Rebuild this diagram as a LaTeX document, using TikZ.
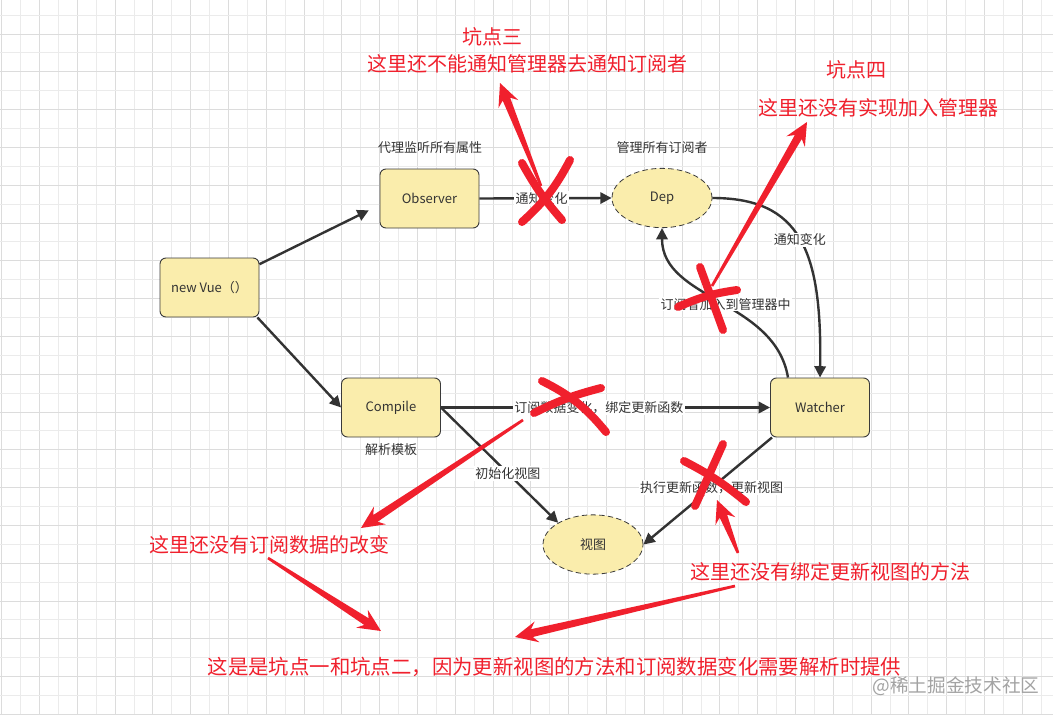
\documentclass[tikz,border=0pt]{standalone}
\usepackage{fontspec}
\setmainfont{Noto Sans CJK SC}
\usetikzlibrary{shapes.geometric,calc,arrows.meta}
\definecolor{nodefill}{HTML}{FAEDAC}
\definecolor{nodeline}{HTML}{3A3A3A}
\definecolor{edgec}{HTML}{333333}
\definecolor{txt}{HTML}{333333}
\definecolor{annred}{HTML}{F0202D}
\definecolor{gridd}{HTML}{DCDCDC}
\definecolor{gridl}{HTML}{EBEBEB}
\definecolor{wmark}{HTML}{A3A3A3}
\newcommand\nf{\fontsize{9.75pt}{11pt}\selectfont}
\newcommand\rf{\fontsize{15pt}{17pt}\selectfont}
\newcommand\bottomf{\fontsize{15.3pt}{18pt}\selectfont}
\newcommand\wmf{\fontsize{14pt}{16pt}\selectfont}
\newcommand\redarrow[2]{%
  \coordinate (hh) at ($(#2)!17pt!(#1)$);
  \coordinate (ss) at ($(#2)!13pt!(#1)$);
  \fill[annred] ($(#1)!1pt!90:(#2)$) -- ($(ss)!3pt!90:(#2)$) -- ($(hh)!8pt!90:(#2)$) -- (#2)
    -- ($(hh)!8pt!-90:(#2)$) -- ($(ss)!3pt!-90:(#2)$) -- ($(#1)!1pt!-90:(#2)$) -- cycle;
}
\tikzset{
  rbox/.style={draw=nodeline, fill=nodefill, rounded corners=4.5pt, minimum width=74.25pt,
    minimum height=44.25pt, line width=0.7pt, font=\nf, text=txt},
  ebox/.style={ellipse, draw=nodeline, dash pattern=on 4pt off 2.5pt, fill=nodefill,
    minimum width=75pt, minimum height=44.5pt, line width=0.6pt, font=\nf, text=txt, inner sep=0pt},
  conn/.style={draw=edgec, line width=1.8pt, -{Triangle[length=8.5pt,width=8.5pt]}},
  elbl/.style={fill=white, inner sep=1pt, font=\nf, text=txt},
  lbl/.style={font=\nf, text=txt, inner sep=0pt},
  redtxt/.style={font=\rf, text=annred, inner sep=0pt},
  redx/.style={draw=annred, line width=6pt, line cap=round},
}
\begin{document}
\begin{tikzpicture}[x=0.75pt,y=-0.75pt]
\useasboundingbox (0,0) rectangle (1053,714);
\fill[white] (0,0) rectangle (1053,714);
% grid
\foreach \i in {0,...,27} {
  \draw[gridl, line width=0.75pt] ({20.6+37.8*\i},0) -- ++(0,714);
  \draw[gridd, line width=0.75pt] ({1.7+37.8*\i},0) -- ++(0,714);
}
\foreach \i in {0,...,18} {
  \draw[gridl, line width=0.75pt] (0,{15.1+37.8*\i}) -- ++(1053,0);
  \draw[gridd, line width=0.75pt] (0,{34+37.8*\i}) -- ++(1053,0);
}
% nodes
\node[rbox] (vue) at (209.5,287.5) {new Vue（）};
\node[rbox] (obs) at (429.5,198.5) {Observer};
\node[ebox] (dep) at (662,198) {Dep};
\node[rbox] (cmp) at (391,407.5) {Compile};
\node[rbox] (wat) at (820,407.5) {Watcher};
\node[ebox] (view) at (593,544.5) {视图};
\node[lbl] (t1) at (430,148) {代理监听所有属性};
\node[lbl] (t2) at (662,148) {管理所有订阅者};
\node[lbl] (t3) at (391,450) {解析模板};
% connectors
\draw[conn, shorten >=9pt] (vue.25) -- ([yshift=-4.9pt]obs.west);
\draw[conn] (vue.-32) -- (cmp.west);
\draw[conn] (obs.east) -- node[elbl, pos=0.47] {通知变化} (dep.west);
\draw[conn] (dep.east) .. controls (800,198) and (822,250) .. node[elbl, pos=0.5] {通知变化} (wat.north);
\draw[conn] ([xshift=-24pt]wat.north) .. controls (775,300) and (662,300) .. node[elbl, pos=0.47] {订阅者加入到管理器中} (dep.south);
\draw[conn] (cmp.east) -- node[elbl, pos=0.48] {订阅数据变化，绑定更新函数} (wat.west);
\draw[conn] (cmp.east) -- node[elbl, pos=0.57] {初始化视图} (view.148);
\draw[conn] (wat.-148) -- node[elbl, pos=0.47] {执行更新函数，更新视图} (view.east);
% red crosses
\coordinate (x1a) at (522,163); \coordinate (x1b) at (562,220);
\coordinate (x1c) at (570,160); \coordinate (x1d) at (522,222);
\draw[redx] (x1a) to[bend right=6] (x1b);
\draw[redx] (x1c) to[bend left=10] (x1d);
\coordinate (x2a) at (700,267); \coordinate (x2b) at (723,330);
\coordinate (x2c) at (678,307); \coordinate (x2d) at (737,290);
\draw[redx] (x2a) -- (x2b);
\draw[redx] (x2c) to[bend left=8] (x2d);
\coordinate (x3a) at (542,381); \coordinate (x3b) at (606,432);
\coordinate (x3c) at (601,388); \coordinate (x3d) at (534,413);
\draw[redx] (x3a) to[bend left=12] (x3b);
\draw[redx] (x3c) to[bend right=6] (x3d);
\coordinate (x4a) at (723,444); \coordinate (x4b) at (695,506);
\coordinate (x4c) at (684,461); \coordinate (x4d) at (746,502);
\draw[redx] (x4a) -- (x4b);
\draw[redx] (x4c) to[bend left=6] (x4d);
% red arrows
\coordinate (a1t) at (541,186); \coordinate (a1h) at (500,83);
\redarrow{a1t}{a1h}
\coordinate (a2t) at (712,286); \coordinate (a2h) at (807,122);
\redarrow{a2t}{a2h}
\coordinate (a3t) at (523,420); \coordinate (a3h) at (361,528);
\redarrow{a3t}{a3h}
\coordinate (a4t) at (268,558); \coordinate (a4h) at (381,631);
\redarrow{a4t}{a4h}
\coordinate (a5t) at (735,586); \coordinate (a5h) at (515,637);
\redarrow{a5t}{a5h}
\coordinate (a6t) at (738,553); \coordinate (a6h) at (717,500);
\redarrow{a6t}{a6h}
% red texts
\node[redtxt] (k3) at (492,37) {坑点三};
\node[redtxt] (k3b) at (527,64) {这里还不能通知管理器去通知订阅者};
\node[redtxt] (k4) at (856,70) {坑点四};
\node[redtxt] (k4b) at (878.5,108) {这里还没有实现加入管理器};
\node[redtxt] (r1) at (269.5,545) {这里还没有订阅数据的改变};
\node[redtxt] (r2) at (830,572) {这里还没有绑定更新视图的方法};
\node[redtxt, font=\bottomf] (r3) at (554.5,667) {这是是坑点一和坑点二，因为更新视图的方法和订阅数据变化需要解析时提供};
\node[font=\wmf, text=wmark, inner sep=0pt] (wm) at (956,686) {@稀土掘金技术社区};
\end{tikzpicture}
\end{document}
